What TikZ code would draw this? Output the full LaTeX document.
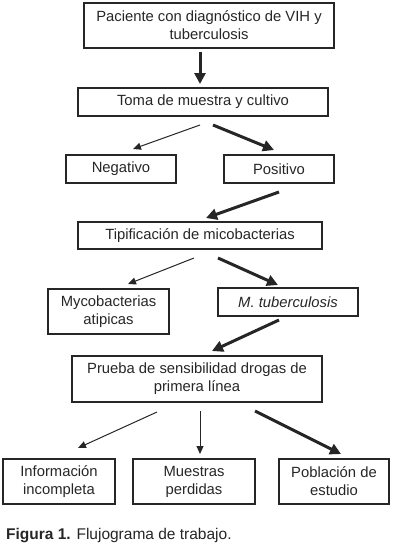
\documentclass[tikz,border=0pt]{standalone}
\usepackage{fontspec}
\setmainfont{Liberation Sans}
\usetikzlibrary{arrows.meta}
\begin{document}
\begin{tikzpicture}[x=1pt,y=-1pt,
  box/.style={draw=black!85, line width=1.1pt, minimum height=#1, inner sep=0pt, align=center,
     font=\fontsize{14.8}{18}\selectfont, text=black!85},
  box/.default=28pt,
  thinarr/.style={draw=black!85, line width=1pt, -{Triangle[length=8pt,width=7pt]}},
  thickarr/.style={draw=black!85, line width=3pt, -{Triangle[length=11pt,width=11pt]}}]
\useasboundingbox (0,0) rectangle (400,546);
\node[box=45pt, minimum width=250pt] (top) at (209,25.5) {Paciente con diagnóstico de VIH y\\tuberculosis};
\node[box, minimum width=250pt] (toma) at (203,102) {Toma de muestra y cultivo};
\node[box, minimum width=110pt] (neg) at (121,169) {Negativo};
\node[box, minimum width=110pt] (pos) at (279,169) {Positivo};
\node[box=27pt, minimum width=244pt] (tip) at (200,235.5) {Tipificación de micobacterias};
\node[box=45pt, minimum width=121pt] (myco) at (108.5,311.5) {Mycobacterias\\atipicas};
\node[box, minimum width=140pt] (mtb) at (288,302) {\itshape M. tuberculosis};
\node[box=46pt, minimum width=250pt] (prueba) at (197,379) {Prueba de sensibilidad drogas de\\primera línea};
\node[box=45pt, minimum width=112pt] (info) at (59,481.5) {Información\\incompleta};
\node[box=45pt, minimum width=122pt] (mues) at (194,481.5) {Muestras\\perdidas};
\node[box=45pt, minimum width=110pt] (pob) at (334,481.5) {Población de\\estudio};

\coordinate (a1s) at (200,52); \coordinate (a1e) at (200,84);
\coordinate (a2s) at (200,125); \coordinate (a2e) at (133,149);
\coordinate (a3s) at (213,125); \coordinate (a3e) at (274,150);
\coordinate (a4s) at (279,192); \coordinate (a4e) at (206,218);
\coordinate (a5s) at (194,258); \coordinate (a5e) at (128,284);
\coordinate (a6s) at (218,258); \coordinate (a6e) at (278,285);
\coordinate (a7s) at (279,320); \coordinate (a7e) at (212,351);
\coordinate (a8s) at (157,412); \coordinate (a8e) at (78,448);
\coordinate (a9s) at (200,411); \coordinate (a9e) at (200,454);
\coordinate (a10s) at (255,411); \coordinate (a10e) at (341,454);

\draw[thickarr] (a1s) -- (a1e);
\draw[thinarr] (a2s) -- (a2e);
\draw[thickarr] (a3s) -- (a3e);
\draw[thickarr] (a4s) -- (a4e);
\draw[thinarr] (a5s) -- (a5e);
\draw[thickarr] (a6s) -- (a6e);
\draw[thickarr] (a7s) -- (a7e);
\draw[thinarr] (a8s) -- (a8e);
\draw[thinarr] (a9s) -- (a9e);
\draw[thickarr] (a10s) -- (a10e);

\node[anchor=base west, inner sep=0pt, font=\fontsize{15.5}{18}\selectfont, text=black!85] (cap) at (6,539)
  {\textbf{Figura 1.} Flujograma de trabajo.};
\end{tikzpicture}
\end{document}
